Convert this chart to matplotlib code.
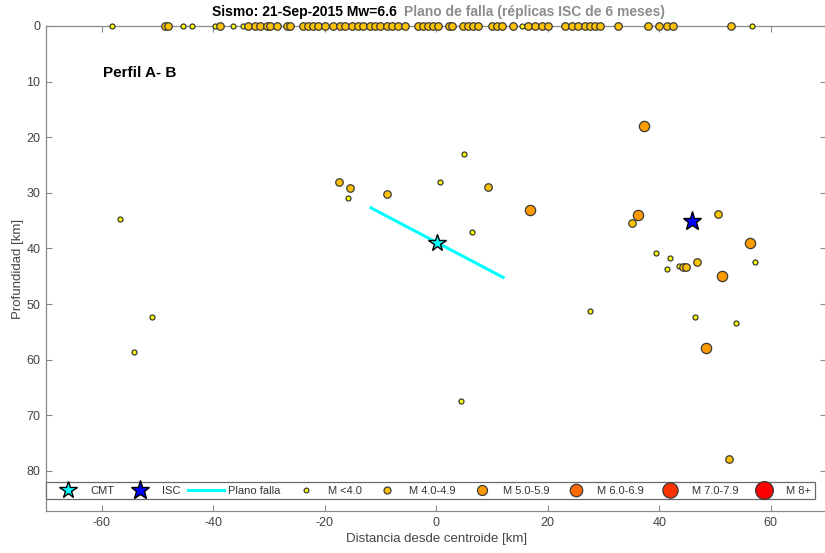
import matplotlib
matplotlib.use("Agg")
import matplotlib.pyplot as plt
from matplotlib.lines import Line2D

plt.rcParams['font.family'] = ['Liberation Sans', 'DejaVu Sans']
plt.rcParams['axes.unicode_minus'] = False

# Aftershocks projected on the A-B profile: distance from centroid (km), depth (km),
# magnitude class (0: M<4, 1: M4.0-4.9, 2: M5.0-5.9, ...)
dist = [-56.7, -51.0, -54.2, -17.4, -15.5, -15.9, -8.8, 0.6, 9.3, 16.9, 6.5,
        5.0, 37.2, 36.2, 35.2, 50.5, 56.3, 39.5, 42.0, 41.4, 43.6, 44.2, 44.8,
        46.8, 57.1, 51.2, 46.5, 27.6, 53.8, 48.3, 4.4, 52.6]
depth = [34.7, 52.4, 58.7, 28.1, 29.2, 30.9, 30.2, 28.1, 28.9, 33.0, 37.0,
         23.1, 18.0, 34.0, 35.4, 33.8, 39.0, 40.9, 41.8, 43.7, 43.1, 43.3, 43.3,
         42.4, 42.5, 44.9, 52.4, 51.2, 53.4, 57.9, 67.5, 77.8]
mclass = [0, 0, 0, 1, 1, 0, 1, 0, 1, 2, 0,
          0, 2, 2, 1, 1, 2, 0, 0, 0, 0, 1, 1,
          1, 0, 2, 0, 0, 0, 2, 0, 1]

# Events without depth, placed on the surface (depth 0)
surface_dist = [-58.2, -48.6, -48.1, -45.4, -43.8, -39.6, -38.7, -36.5, -34.7,
                -33.7, -32.5, -31.6, -30.4, -29.8, -28.5, -26.7, -26.2, -23.9,
                -23.0, -22.1, -21.2, -19.9, -18.5, -17.2, -16.3, -15.1, -14.0,
                -13.1, -11.8, -10.9, -10.0, -8.8, -7.9, -6.8, -5.6, -3.2, -2.3,
                -1.4, -0.5, 0.4, 2.2, 2.9, 4.8, 5.7, 6.6, 7.5, 10.0, 10.9, 11.8,
                13.8, 15.4, 16.5, 17.8, 19.0, 20.1, 23.1, 24.4, 25.5, 26.7,
                27.6, 28.5, 29.4, 32.6, 38.0, 40.0, 41.4, 42.5, 52.9, 56.6]
surface_class = [0, 1, 1, 0, 0, 0, 1, 0, 0,
                 1, 1, 1, 1, 1, 1, 1, 1, 1,
                 1, 1, 1, 1, 1, 1, 1, 1, 1,
                 1, 1, 1, 1, 1, 1, 1, 1, 1, 1,
                 1, 1, 1, 1, 1, 1, 1, 1, 1, 1, 1, 1,
                 1, 0, 1, 1, 1, 1, 1, 1, 1, 1,
                 1, 1, 1, 1, 1, 1, 1, 1, 1, 0]

cmt_dist, cmt_depth = 0.2, 39.0
isc_dist, isc_depth = 45.9, 35.0
plane_dist = [-11.7, 12.0]
plane_depth = [32.7, 45.2]

class_labels = ['M <4.0', 'M 4.0-4.9', 'M 5.0-5.9', 'M 6.0-6.9', 'M 7.0-7.9', 'M 8+']
class_colors = ['#FFFF00', '#FFC200', '#FF9A00', '#FF6A00', '#FF3300', '#FF0000']
class_sizes = [3.6, 5.4, 7.4, 9.4, 11.4, 13.4]
legend_sizes = [3.4, 5.0, 7.2, 9.0, 11.0, 12.8]
edge = '#3a3a3a'

fig = plt.figure(figsize=(8.25, 5.53), dpi=100)
ax = fig.add_axes([46 / 825, 42 / 553, 780.5 / 825, 485 / 553])

ax.plot(plane_dist, plane_depth, color='#00FFFF', lw=2.2, zorder=3)

for k in range(len(class_labels)):
    xs = [d for d, c in zip(dist, mclass) if c == k]
    ys = [z for z, c in zip(depth, mclass) if c == k]
    ax.plot(xs, ys, 'o', ms=class_sizes[k], mfc=class_colors[k], mec=edge,
            mew=0.9, ls='none', zorder=4)
    sx = [d for d, c in zip(surface_dist, surface_class) if c == k]
    ax.plot(sx, [0.0] * len(sx), 'o', ms=class_sizes[k], mfc=class_colors[k],
            mec=edge, mew=0.9, ls='none', zorder=6, clip_on=False)

ax.plot([cmt_dist], [cmt_depth], '*', ms=13, mfc='#00FFFF', mec='black',
        mew=1.0, zorder=7)
ax.plot([isc_dist], [isc_depth], '*', ms=14, mfc='#0000FF', mec='black',
        mew=1.0, zorder=7)

ax.set_xlim(-70, 70)
ax.set_ylim(87.2, 0)
ax.set_xticks(range(-60, 61, 20))
ax.set_yticks(range(0, 81, 10))

axis_grey = '#8a8a8a'
text_grey = '#444444'
for s in ax.spines.values():
    s.set_color(axis_grey)
    s.set_linewidth(0.9)
ax.tick_params(direction='in', top=True, right=True, length=4.5, width=0.8,
               color=axis_grey, labelcolor=text_grey, labelsize=9, pad=4)

ax.set_xlabel('Distancia desde centroide [km]', fontsize=9.5, color=text_grey,
              labelpad=3)
ax.set_ylabel('Profundidad [km]', fontsize=9.5, color=text_grey, labelpad=2)

ax.text(-59.8, 8.4, 'Perfil A- B', fontsize=11, fontweight='bold',
        ha='left', va='center', color='black')

fig.text(397 / 825, 1 - 12 / 553, 'Sismo: 21-Sep-2015 Mw=6.6', ha='right',
         va='center', fontsize=10, fontweight='bold', color='black')
fig.text(404 / 825, 1 - 12 / 553, 'Plano de falla (réplicas ISC de 6 meses)',
         ha='left', va='center', fontsize=10, fontweight='bold', color='#8c8c8c')

handles = [
    Line2D([], [], marker='*', ls='none', ms=13, mfc='#00FFFF', mec='black', mew=1.0),
    Line2D([], [], marker='*', ls='none', ms=14, mfc='#0000FF', mec='black', mew=1.0),
    Line2D([], [], color='#00FFFF', lw=2.2),
]
labels = ['CMT', 'ISC', 'Plano falla']
for k in range(len(class_labels)):
    handles.append(Line2D([], [], marker='o', ls='none', ms=legend_sizes[k],
                          mfc=class_colors[k], mec=edge, mew=0.9))
    labels.append(class_labels[k])

leg = ax.legend(handles, labels, ncol=9, loc='center', mode='expand',
                bbox_to_anchor=(0.0, 0.0206, 0.985, 0.0433), borderaxespad=0,
                fontsize=8, frameon=True, fancybox=False, framealpha=1,
                handlelength=3.3, handletextpad=0.3, columnspacing=0.5,
                borderpad=0.35, labelcolor='#333333')
leg.get_frame().set_edgecolor('#6a6a6a')
leg.get_frame().set_linewidth(0.9)
leg.set_zorder(8)

fig.savefig('out.png', dpi=100)
